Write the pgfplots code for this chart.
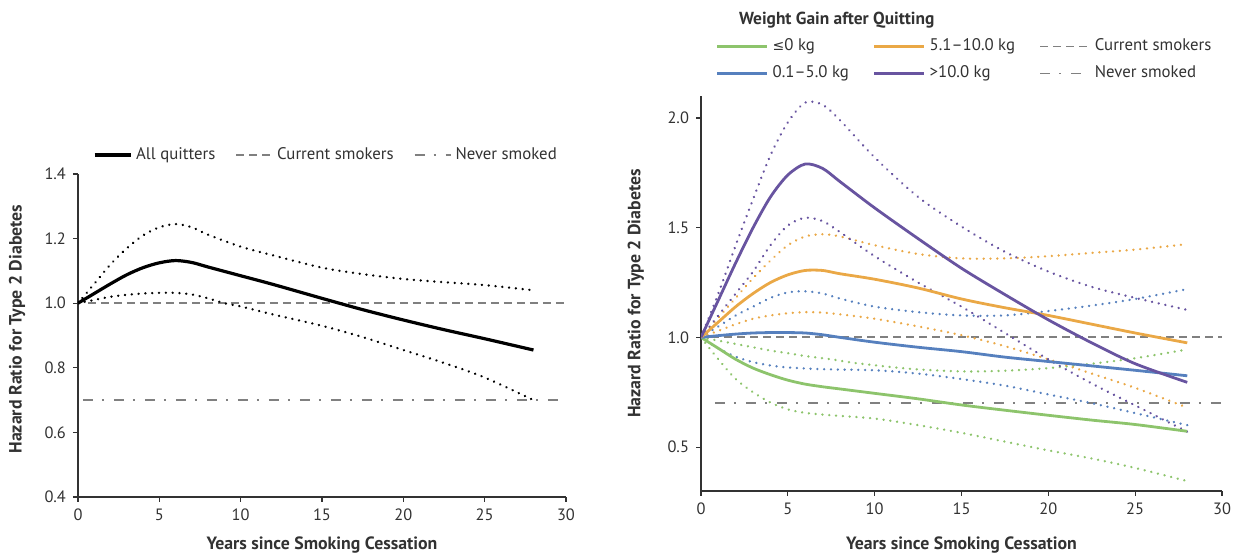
\documentclass[border=0pt]{standalone}
\usepackage{fontspec}
\setmainfont{PT Sans}
\newfontfamily\symfont{DejaVu Sans}
\usepackage{pgfplots}
\pgfplotsset{compat=1.18}
\definecolor{cgreen}{RGB}{141,196,108}
\definecolor{cblue}{RGB}{86,128,190}
\definecolor{corange}{RGB}{234,168,70}
\definecolor{cpurple}{RGB}{104,84,160}
\definecolor{cref}{RGB}{128,128,128}
\definecolor{caxis}{RGB}{50,50,50}
\begin{document}
\begin{tikzpicture}
\pgfplotsset{
 myaxis/.style={
  scale only axis,
  axis lines=left,
  axis line style={-, caxis, line width=0.6pt},
  tick align=outside,
  tick style={caxis, line width=0.6pt},
  major tick length=2.5pt,
  xmin=0, xmax=30,
  xtick={0,5,...,30},
  ticklabel style={font=\fontsize{8.2}{9}\selectfont, text=caxis},
  /pgf/number format/assume math mode=true,
  yticklabel style={/pgf/number format/fixed, /pgf/number format/fixed zerofill, /pgf/number format/precision=1},
  label style={font=\bfseries\fontsize{8.9}{10}\selectfont, text=caxis},
  legend style={draw=none, fill=none, font=\fontsize{8.4}{9.5}\selectfont, text=caxis},
  legend cell align=left,
 },
 cur/.style={cref, line width=0.9pt, dash pattern=on 4pt off 2.5pt},
 nev/.style={cref, line width=0.9pt, dash pattern=on 5pt off 4.5pt on 1pt off 5pt},
 ci/.style={line width=1.3pt, dash pattern=on 0.01pt off 3.4pt, line cap=round, smooth},
 main/.style={line width=1.4pt, smooth},
}
\path[use as bounding box] (0,0) rectangle (622pt,278pt);

% ---------------- left panel ----------------
\begin{axis}[myaxis,
  at={(39pt,29.5pt)}, anchor=south west,
  width=244pt, height=161.5pt,
  ymin=0.4, ymax=1.4, ytick={0.4,0.6,...,1.41},
  xlabel={Years since Smoking Cessation},
  ylabel={Hazard Ratio for Type 2 Diabetes},
  xlabel style={at={(axis description cs:0.5,0)}, anchor=center, yshift=-24pt},
  ylabel style={at={(axis description cs:-0.125,0.52)}, anchor=center},
  legend columns=3,
  legend style={at={(axis description cs:0.51,1)}, anchor=center, yshift=9.5pt,
    /tikz/every even column/.append style={column sep=8pt}},
  legend image code/.code={\draw[#1] (0pt,0pt) -- (18pt,0pt);},
]
\addplot[cur, forget plot] coordinates {(0.6,1.0) (30,1.0)};
\addplot[nev, forget plot] coordinates {(0.3,0.7) (30,0.7)};
\addplot[black, ci, forget plot] coordinates {(0,1.0) (1,1.06) (2,1.12) (3,1.17) (4,1.21) (5,1.235) (6,1.245) (7,1.235) (8,1.212) (10,1.175) (12,1.148) (15,1.11) (17.5,1.09) (20,1.075) (22.5,1.065) (25,1.056) (28,1.04)};
\addplot[black, ci, forget plot] coordinates {(0,1.0) (1,1.01) (2,1.02) (3,1.026) (4,1.03) (5,1.032) (6,1.032) (7,1.027) (8,1.015) (9,1.0) (10,0.99) (12,0.965) (15,0.93) (17.5,0.895) (20,0.855) (22.5,0.815) (25,0.77) (28,0.70)};
\addplot[black, main, line width=1.6pt, forget plot] coordinates {(0,1.0) (1,1.03) (2,1.06) (3,1.088) (4,1.11) (5,1.125) (6,1.132) (7,1.126) (8,1.112) (10,1.085) (12,1.058) (15,1.015) (17.5,0.98) (20,0.948) (22.5,0.918) (25,0.89) (28,0.855)};
\addlegendimage{black, line width=1.6pt}
\addlegendentry{All quitters}
\addlegendimage{cur}
\addlegendentry{Current smokers}
\addlegendimage{nev}
\addlegendentry{Never smoked}
\end{axis}

% ---------------- right panel ----------------
\begin{axis}[myaxis,
  at={(350.5pt,32.5pt)}, anchor=south west,
  width=260.5pt, height=197.5pt,
  ymin=0.3, ymax=2.1, ytick={0.5,1.0,1.5,2.0},
  xlabel={Years since Smoking Cessation},
  ylabel={Hazard Ratio for Type 2 Diabetes},
  xlabel style={at={(axis description cs:0.5,0)}, anchor=center, yshift=-27pt},
  ylabel style={at={(axis description cs:-0.125,0.5)}, anchor=center},
  legend columns=3,
  legend style={at={(axis description cs:0.508,1)}, anchor=center, yshift=18pt,
    /tikz/every even column/.append style={column sep=10pt},
    /tikz/every odd row/.append style={row sep=2pt}},
  legend image code/.code={\draw[#1] (0pt,0pt) -- (25pt,0pt);},
]
\addplot[cur, forget plot] coordinates {(0.6,1.0) (30,1.0)};
\addplot[nev, forget plot] coordinates {(0.8,0.7) (30,0.7)};
% CIs
\addplot[cgreen, ci, forget plot] coordinates {(0,1) (1,0.985) (2,0.97) (3,0.955) (4,0.94) (5,0.928) (6,0.915) (7.5,0.9) (9,0.882) (12,0.857) (15,0.845) (17.5,0.848) (20,0.86) (22.5,0.88) (25,0.905) (28,0.945)};
\addplot[cgreen, ci, forget plot] coordinates {(0,1) (1,0.9) (2,0.81) (3,0.75) (4,0.703) (5,0.672) (6,0.656) (7.5,0.645) (10,0.63) (12.5,0.6) (15,0.565) (17.5,0.525) (20,0.485) (22.5,0.448) (25,0.405) (28,0.345)};
\addplot[cblue, ci, forget plot] coordinates {(0,1) (1,1.05) (2,1.1) (3,1.14) (4,1.18) (5,1.205) (6,1.21) (7,1.2) (8,1.177) (10,1.14) (12.5,1.115) (15,1.1) (17.5,1.1) (20,1.12) (22.5,1.145) (25,1.175) (28,1.22)};
\addplot[cblue, ci, forget plot] coordinates {(0,1) (1,0.95) (2,0.912) (3,0.887) (4,0.872) (5,0.863) (7,0.855) (10,0.85) (12.5,0.835) (15,0.81) (17.5,0.78) (20,0.74) (22.5,0.7) (25,0.655) (28,0.6)};
\addplot[corange, ci, forget plot] coordinates {(0,1) (1,1.09) (2,1.18) (3,1.27) (4,1.35) (5,1.42) (6,1.46) (7,1.47) (8,1.46) (10,1.42) (12.5,1.38) (15,1.36) (17.5,1.36) (20,1.37) (22.5,1.385) (25,1.4) (28,1.425)};
\addplot[corange, ci, forget plot] coordinates {(0,1) (1,1.03) (2,1.06) (3,1.085) (4,1.1) (5,1.11) (6,1.115) (7,1.113) (8,1.105) (10,1.085) (12.5,1.05) (15,1.01) (17.5,0.96) (20,0.9) (22.5,0.835) (25,0.77) (28,0.68)};
\addplot[cpurple, ci, forget plot] coordinates {(0,1) (1,1.2) (2,1.42) (3,1.63) (4,1.83) (5,1.98) (6,2.07) (7,2.06) (8,1.99) (10,1.82) (12.5,1.64) (15,1.505) (17.5,1.39) (20,1.3) (22.5,1.23) (25,1.18) (28,1.125)};
\addplot[cpurple, ci, forget plot] coordinates {(0,1) (1,1.1) (2,1.2) (3,1.3) (4,1.42) (5,1.51) (6,1.545) (7,1.53) (8,1.48) (10,1.37) (12.5,1.25) (15,1.14) (17.5,1.02) (20,0.9) (22.5,0.79) (25,0.69) (28,0.57)};
% main curves
\addplot[cgreen, main, forget plot] coordinates {(0,1) (1,0.95) (2,0.9) (3,0.86) (4,0.83) (5,0.805) (6,0.787) (7,0.775) (8,0.765) (10,0.745) (12.5,0.72) (15,0.692) (17.5,0.668) (20,0.645) (22.5,0.623) (25,0.603) (28,0.572)};
\addplot[cblue, main, forget plot] coordinates {(0,1) (1,1.008) (2,1.015) (3,1.02) (4,1.022) (5,1.022) (6,1.02) (7,1.012) (8,1.0) (10,0.978) (12.5,0.955) (15,0.935) (17.5,0.91) (20,0.89) (22.5,0.87) (25,0.85) (28,0.825)};
\addplot[corange, main, forget plot] coordinates {(0,1) (1,1.07) (2,1.14) (3,1.2) (4,1.25) (5,1.285) (6,1.305) (7,1.305) (8,1.29) (10,1.265) (12.5,1.225) (15,1.175) (17.5,1.135) (20,1.1) (22.5,1.06) (25,1.02) (28,0.975)};
\addplot[cpurple, main, forget plot] coordinates {(0,1) (1,1.17) (2,1.34) (3,1.5) (4,1.64) (5,1.74) (6,1.79) (7,1.77) (8,1.71) (10,1.59) (12.5,1.45) (15,1.315) (17.5,1.195) (20,1.08) (22.5,0.975) (25,0.88) (28,0.795)};
\addlegendimage{cgreen, line width=1.4pt}
\addlegendentry{{\symfont\fontsize{7}{9}\selectfont ≤}0 kg}
\addlegendimage{corange, line width=1.4pt}
\addlegendentry{5.1–10.0 kg}
\addlegendimage{cur}
\addlegendentry{Current smokers}
\addlegendimage{cblue, line width=1.4pt}
\addlegendentry{0.1–5.0 kg}
\addlegendimage{cpurple, line width=1.4pt}
\addlegendentry{>10.0 kg}
\addlegendimage{nev}
\addlegendentry{Never smoked}
\end{axis}
\node[anchor=west, font=\bfseries\fontsize{8.7}{10}\selectfont, text=caxis] at (366pt,268pt) {Weight Gain after Quitting};
\end{tikzpicture}
\end{document}
